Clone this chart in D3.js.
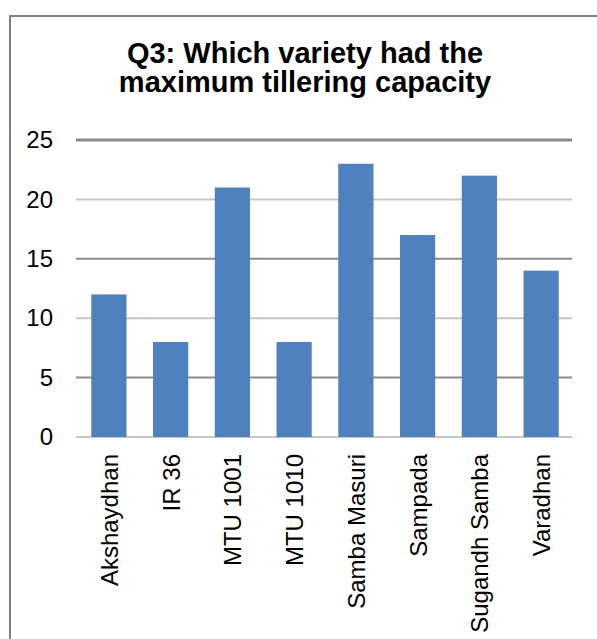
<!DOCTYPE html>
<html>
<head>
<meta charset="utf-8">
<script src="https://cdn.jsdelivr.net/npm/d3@7/dist/d3.min.js"></script>
<style>
  html, body { margin: 0; padding: 0; background: #fff; }
  svg { display: block; }
  text { font-family: "Liberation Sans", Arial, sans-serif; fill: #000; }
</style>
</head>
<body>
<svg id="chart" width="597" height="639"></svg>
<script>
const categories = ["Akshaydhan", "IR 36", "MTU 1001", "MTU 1010", "Samba Masuri", "Sampada", "Sugandh Samba", "Varadhan"];
const values = [12, 8, 21, 8, 23, 17, 22, 14];
const yTicks = [0, 5, 10, 15, 20, 25];
const titleLines = ["Q3: Which variety had the", "maximum tillering capacity"];

const svg = d3.select("#chart");

// chart frame (top and left edges visible)
svg.append("path")
  .attr("d", "M10,639 L10,16 L597,16")
  .attr("fill", "none")
  .attr("stroke", "#808080")
  .attr("stroke-width", 2);

// title
svg.append("g").selectAll("text")
  .data(titleLines)
  .join("text")
  .attr("x", 305)
  .attr("y", (d, i) => 63 + i * 29)
  .attr("text-anchor", "middle")
  .attr("font-size", 29)
  .attr("font-weight", "bold")
  .attr("fill", "#111")
  .text(d => d);

const x = d3.scaleBand().domain(categories).range([78, 572]).paddingInner(0.43).paddingOuter(0.215);
const y = d3.scaleLinear().domain([0, 25]).range([437, 140]);

// gridlines
const grid = svg.append("g");
grid.selectAll("line")
  .data(yTicks)
  .join("line")
  .attr("x1", 76)
  .attr("x2", 572)
  .attr("y1", d => y(d))
  .attr("y2", d => y(d))
  .attr("stroke", (d, i) => i % 2 === 1 ? "#8c8c8c" : "#c6c6c6")
  .attr("stroke-width", d => d === 25 ? 3 : 2);

// y axis labels via d3 axis
const yAxis = d3.axisLeft(y).tickValues(yTicks).tickSize(0).tickPadding(0).tickFormat(d3.format("d"));
const ya = svg.append("g").attr("transform", "translate(53,0)").call(yAxis);
ya.select(".domain").remove();
ya.selectAll("text")
  .attr("font-size", 24)
  .attr("font-family", "Liberation Sans, Arial, sans-serif")
  .attr("fill", "#111");

// bars
svg.append("g").selectAll("rect")
  .data(values)
  .join("rect")
  .attr("x", (d, i) => x(categories[i]))
  .attr("width", x.bandwidth())
  .attr("y", d => y(d))
  .attr("height", d => y(0) - y(d))
  .attr("fill", "#4f81bd");

// x axis labels, rotated
const xAxis = d3.axisBottom(x).tickSize(0).tickPadding(0);
const xa = svg.append("g").attr("transform", "translate(0,437)").call(xAxis);
xa.select(".domain").remove();
xa.selectAll("text")
  .attr("font-size", 24)
  .attr("font-family", "Liberation Sans, Arial, sans-serif")
  .attr("fill", "#111")
  .attr("text-anchor", "end")
  .attr("dy", null)
  .attr("y", 0)
  .attr("transform", "translate(9,17) rotate(-90)");
</script>
</body>
</html>
